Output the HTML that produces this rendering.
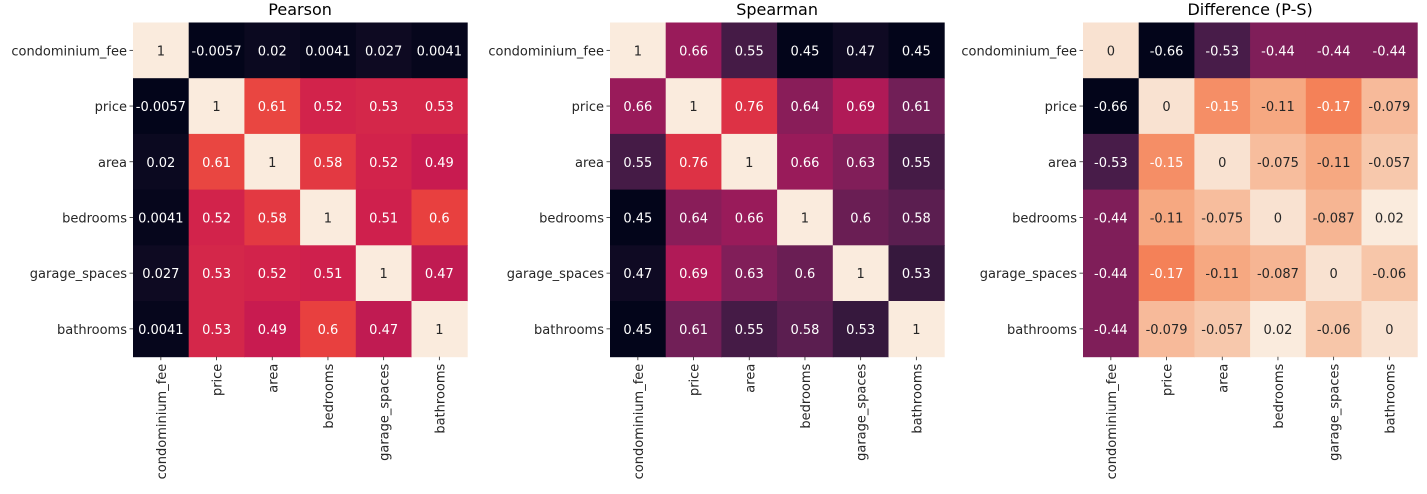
<!DOCTYPE html>
<html><head><meta charset="utf-8"><style>
body{margin:0;background:#fff;}
svg text{font-family:"DejaVu Sans","Liberation Sans",sans-serif;}
</style></head><body>
<svg id="fig" width="1427" height="489" xmlns="http://www.w3.org/2000/svg"></svg>
<script>
const labels=["condominium_fee","price","area","bedrooms","garage_spaces","bathrooms"];
const pearson=[[1,-0.0057,0.02,0.0041,0.027,0.0041],[-0.0057,1,0.61,0.52,0.53,0.53],[0.02,0.61,1,0.58,0.52,0.49],[0.0041,0.52,0.58,1,0.51,0.6],[0.027,0.53,0.52,0.51,1,0.47],[0.0041,0.53,0.49,0.6,0.47,1]];
const spearman=[[1,0.66,0.55,0.45,0.47,0.45],[0.66,1,0.76,0.64,0.69,0.61],[0.55,0.76,1,0.66,0.63,0.55],[0.45,0.64,0.66,1,0.6,0.58],[0.47,0.69,0.63,0.6,1,0.53],[0.45,0.61,0.55,0.58,0.53,1]];
const diff=[[0,-0.66,-0.53,-0.44,-0.44,-0.44],[-0.66,0,-0.15,-0.11,-0.17,-0.079],[-0.53,-0.15,0,-0.075,-0.11,-0.057],[-0.44,-0.11,-0.075,0,-0.087,0.02],[-0.44,-0.17,-0.11,-0.087,0,-0.06],[-0.44,-0.079,-0.057,0.02,-0.06,0]];
const titles=["Pearson","Spearman","Difference (P-S)"];
const stops=["#03051a","#241432","#4c1d4b","#751f58","#a11a5b","#cb1b4f","#e83f3f","#f3784f","#f6a47c","#f7cdb3","#faebdd"];
function hex(h){return [1,3,5].map(i=>parseInt(h.substr(i,2),16));}
function cmap(t){t=Math.max(0,Math.min(1,t));const p=t*10,i=Math.min(9,Math.floor(p)),f=p-i;const a=hex(stops[i]),b=hex(stops[i+1]);return a.map((v,k)=>Math.round(v+(b[k]-v)*f));}
function lum(c){const l=c.map(v=>{v/=255;return v<=0.03928?v/12.92:Math.pow((v+0.055)/1.055,2.4)});return 0.2126*l[0]+0.7152*l[1]+0.0722*l[2];}
const svg=document.getElementById('fig');const NS="http://www.w3.org/2000/svg";
function mk(tag,attrs,parent){const e=document.createElementNS(NS,tag);for(const k in attrs)e.setAttribute(k,attrs[k]);(parent||svg).appendChild(e);return e;}
const lefts=[133,610,1083];const top0=22.5;const cs=55.7;
[pearson,spearman,diff].forEach((m,pi)=>{
  const g=mk('g',{});
  
  
  const flat=m.flat();const vmin=Math.min(...flat),vmax=Math.max(...flat);
  const x0=lefts[pi];
  const t=mk('text',{x:x0+3*cs,y:15,'text-anchor':'middle','font-size':'16','fill':'#000'},g);t.textContent=titles[pi];
  
  
  m.forEach((row,r)=>row.forEach((v,c)=>{
    const col=cmap((v-vmin)/(vmax-vmin));
    const rc=mk('rect',{x:x0+c*cs,y:top0+r*cs,width:cs+0.5,height:cs+0.5,fill:`rgb(${col})`},g);
    
    
    const tx=mk('text',{x:x0+c*cs+cs/2,y:top0+r*cs+cs/2+5,'text-anchor':'middle','font-size':'13',fill:lum(col)>0.408?'#262626':'#ffffff'},g);
    tx.textContent=String(v);
    
    
  }));
  labels.forEach((lb,i)=>{
    const yc=top0+i*cs+cs/2;
    mk('line',{x1:x0-3.5,x2:x0,y1:yc,y2:yc,stroke:'#262626','stroke-width':0.8},g);
    const yl=mk('text',{x:x0-6,y:yc+5,'text-anchor':'end','font-size':'13',fill:'#262626'},g);yl.textContent=lb;
    
    
    const xc=x0+i*cs+cs/2,yb=top0+6*cs;
    mk('line',{x1:xc,x2:xc,y1:yb,y2:yb+3.5,stroke:'#262626','stroke-width':0.8},g);
    const xl=mk('text',{x:0,y:0,'text-anchor':'end','font-size':'13',fill:'#262626',transform:`translate(${xc+5},${yb+7}) rotate(-90)`},g);xl.textContent=lb;
    
    
  });
});
</script>
</body></html>
